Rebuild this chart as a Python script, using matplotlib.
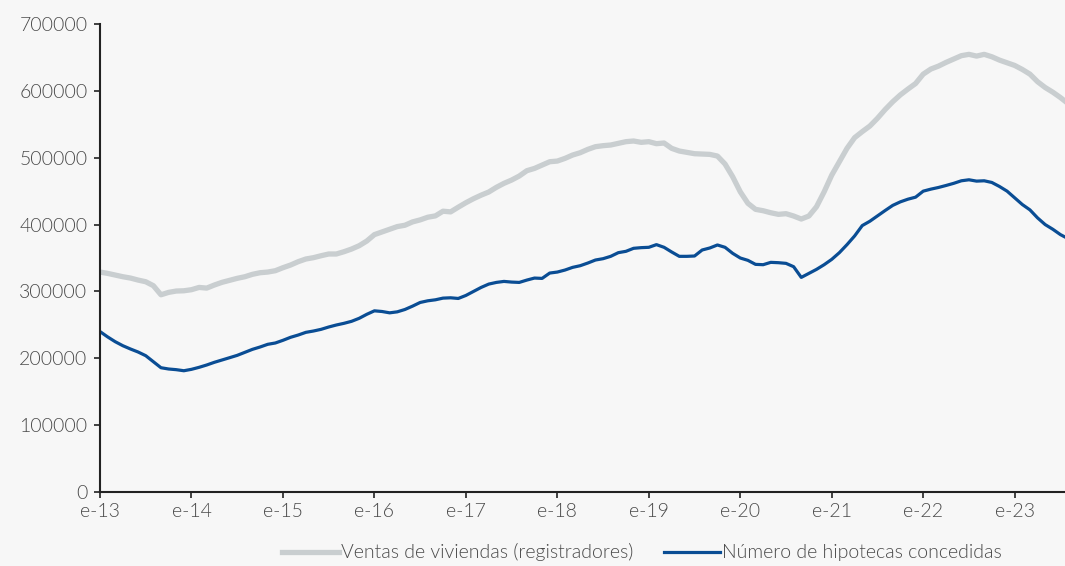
import numpy as np
from matplotlib import pyplot as plt

# monthly series, Jan 2013 .. Aug 2023
ventas = [
    329, 327, 324.5, 322, 320, 317, 314.5, 308.6, 295, 298.6, 300.6, 301,
    302.6, 306, 305, 309.6, 313.6, 316.6, 319.6, 322, 325.6, 328, 329, 331,
    335.5, 339.5, 344.5, 348.5, 350.5, 353.4, 356, 356, 359.4, 363.4, 368.4, 375.4,
    385, 389, 393, 397, 399, 404, 407, 411, 413, 420, 419, 426,
    432.7, 438.7, 444, 448.7, 455.7, 461.7, 466.6, 472.6, 480.6, 484, 489, 494,
    495, 499, 504, 507.5, 512.5, 516.5, 518, 519, 521.5, 524, 525, 523,
    524, 521, 522, 514, 510, 508, 506, 505.5, 505, 502.5, 490.6, 471.6,
    449, 431.8, 422.8, 420.7, 417.7, 415.3, 416.3, 412.8, 408.3, 412.8, 426.7, 449,
    474, 494, 514, 530, 539, 547.4, 559, 572, 583.7, 594, 602.7, 611,
    625, 632.6, 637, 642.6, 647.6, 652.6, 654.6, 652, 654.6, 651, 646, 642,
    638, 632, 625, 613.7, 605, 598, 590, 581,
]
hipotecas = [
    240, 232, 224.8, 218.8, 213.9, 209.4, 203.9, 194.9, 185.9, 184, 183, 181.4,
    183.5, 186.5, 190, 194, 197.4, 200.9, 204.4, 208.9, 213.4, 216.9, 220.9, 222.9,
    226.9, 231.4, 234.8, 238.8, 240.8, 243.3, 246.8, 249.8, 252.3, 255.3, 259.8, 265.8,
    271, 270, 268, 269.5, 273, 278, 283.5, 286, 287.5, 290, 290.5, 289.5,
    294, 300, 306, 311, 313.5, 315, 314, 313.5, 317, 320, 319.5, 327.5,
    329, 332, 336, 338.5, 342.5, 347, 349, 352.5, 358, 360, 364.5, 365.5,
    366, 370, 366, 359, 352.5, 352.5, 353, 362, 365, 369.5, 366, 357,
    350, 346.5, 340.5, 340, 343.5, 343, 342, 337, 321, 327, 333, 340,
    348, 358, 370, 383, 398.5, 405, 413, 421, 428.7, 434, 438, 441,
    450, 453, 455.5, 458.5, 461.7, 465.5, 467, 465, 465.5, 463, 457, 450,
    440, 430, 422, 410, 400, 393, 385, 379,
]
year_labels = ['e-13', 'e-14', 'e-15', 'e-16', 'e-17', 'e-18',
               'e-19', 'e-20', 'e-21', 'e-22', 'e-23']
series_names = ['Ventas de viviendas (registradores)', 'Número de hipotecas concedidas']

plt.rcParams['font.family'] = ['Lato', 'DejaVu Sans']
plt.rcParams['font.weight'] = 300

bg = '#f7f7f7'
fig = plt.figure(figsize=(10.65, 5.66), dpi=100, facecolor=bg)
ax = fig.add_axes([0.0939, 0.1307, 0.9061, 0.8269], facecolor=bg)

x = np.arange(len(ventas))
ax.plot(x, np.array(ventas) * 1000, color='#c9ced0', lw=3.8,
        label=series_names[0], solid_joinstyle='round')
ax.plot(x, np.array(hipotecas) * 1000, color='#0a4d94', lw=2.3,
        label=series_names[1], solid_joinstyle='round')

ax.set_ylim(0, 700000)
ax.set_xlim(0, 126.6)
ax.set_yticks(np.arange(0, 700001, 100000))
ax.set_yticklabels([str(v) for v in range(0, 700001, 100000)])
ax.set_xticks(np.arange(len(year_labels)) * 12)
ax.set_xticklabels(year_labels)

for s in ['top', 'right']:
    ax.spines[s].set_visible(False)
for s in ['left', 'bottom']:
    ax.spines[s].set_color('#222222')
    ax.spines[s].set_linewidth(1.5)
ax.tick_params(axis='both', direction='out', length=4, width=1.2,
               color='#222222', labelcolor='#4a4a4a', labelsize=14)
ax.tick_params(axis='y', pad=5)
ax.tick_params(axis='x', pad=4)

leg = fig.legend(loc='center', bbox_to_anchor=(0.603, 0.024), ncol=2,
                 frameon=False, fontsize=14, handlelength=2.9,
                 handletextpad=0.1, columnspacing=1.6)
for t in leg.get_texts():
    t.set_color('#4a4a4a')

fig.savefig('out.png', dpi=100, facecolor=bg)
